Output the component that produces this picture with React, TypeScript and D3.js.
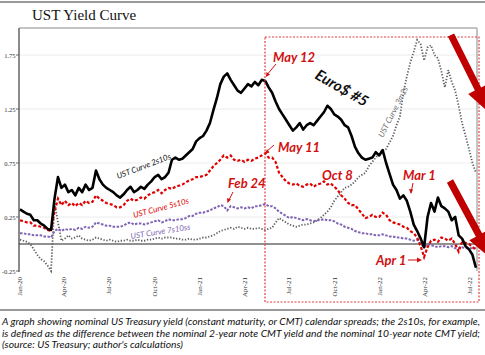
import React from "react";
import * as d3 from "d3";

// Weekly observations starting Fri 2020-01-03
const START = new Date(2020, 0, 3);
const curve2s10s = [
  0.32, 0.30, 0.28, 0.27, 0.22, 0.22, 0.19, 0.17, 0.14, 0.13,
  0.42, 0.62, 0.52, 0.55, 0.48, 0.50, 0.45, 0.52, 0.48, 0.55,
  0.50, 0.52, 0.68, 0.60, 0.55, 0.52, 0.50, 0.48, 0.45, 0.43,
  0.46, 0.50, 0.53, 0.48, 0.50, 0.53, 0.51, 0.55, 0.58, 0.62,
  0.64, 0.60, 0.62, 0.66, 0.78, 0.80, 0.78, 0.79, 0.82, 0.85,
  0.88, 0.95, 0.98, 1.00, 1.05, 1.12, 1.24, 1.35, 1.48, 1.55,
  1.58, 1.52, 1.47, 1.42, 1.40, 1.44, 1.48, 1.46, 1.50, 1.47,
  1.52, 1.51, 1.45, 1.40, 1.32, 1.25, 1.20, 1.15, 1.10, 1.05,
  1.08, 1.12, 1.06, 1.10, 1.12, 1.10, 1.14, 1.18, 1.22, 1.28,
  1.25, 1.20, 1.18, 1.15, 1.10, 1.08, 1.00, 0.90, 0.84, 0.80,
  0.78, 0.79, 0.80, 0.85, 0.82, 0.87, 0.75, 0.65, 0.55, 0.50,
  0.42, 0.45, 0.40, 0.30, 0.18, 0.12, 0.05, -0.03, 0.25, 0.38,
  0.30, 0.43, 0.35, 0.33, 0.30, 0.22, 0.25, 0.08, 0.05, -0.02,
  -0.05, -0.10, -0.22,
];
const curve5s10s = [
  0.22, 0.21, 0.20, 0.20, 0.17, 0.17, 0.16, 0.15, 0.13, 0.12,
  0.30, 0.42, 0.36, 0.40, 0.36, 0.38, 0.35, 0.38, 0.36, 0.40,
  0.38, 0.39, 0.45, 0.42, 0.40, 0.38, 0.37, 0.36, 0.34, 0.34,
  0.36, 0.40, 0.42, 0.40, 0.41, 0.43, 0.42, 0.45, 0.47, 0.48,
  0.50, 0.47, 0.50, 0.52, 0.51, 0.53, 0.54, 0.55, 0.57, 0.59,
  0.60, 0.62, 0.62, 0.63, 0.64, 0.68, 0.72, 0.75, 0.78, 0.82,
  0.80, 0.82, 0.78, 0.77, 0.78, 0.76, 0.78, 0.77, 0.79, 0.80,
  0.82, 0.84, 0.80, 0.80, 0.76, 0.66, 0.62, 0.58, 0.56, 0.55,
  0.56, 0.54, 0.53, 0.55, 0.56, 0.53, 0.55, 0.56, 0.58, 0.55,
  0.56, 0.53, 0.50, 0.45, 0.42, 0.38, 0.36, 0.36, 0.32, 0.28,
  0.24, 0.25, 0.27, 0.25, 0.25, 0.29, 0.27, 0.22, 0.20, 0.19,
  0.18, 0.16, 0.15, 0.12, 0.10, 0.06, -0.02, -0.12, -0.03, 0.03,
  0.04, 0.02, 0.06, 0.05, 0.03, 0.05, 0.00, -0.07, 0.02, 0.01,
  0.00, -0.03, -0.05,
];
const curve7s10s = [
  0.10, 0.10, 0.09, 0.09, 0.08, 0.08, 0.08, 0.07, 0.07, 0.06,
  0.12, 0.14, 0.12, 0.14, 0.13, 0.14, 0.13, 0.15, 0.14, 0.16,
  0.15, 0.16, 0.20, 0.19, 0.18, 0.17, 0.17, 0.16, 0.16, 0.16,
  0.17, 0.19, 0.20, 0.18, 0.19, 0.19, 0.18, 0.19, 0.20, 0.21,
  0.22, 0.20, 0.21, 0.23, 0.22, 0.22, 0.23, 0.23, 0.24, 0.26,
  0.26, 0.28, 0.29, 0.29, 0.30, 0.31, 0.33, 0.34, 0.36, 0.35,
  0.31, 0.35, 0.34, 0.33, 0.34, 0.33, 0.34, 0.33, 0.35, 0.35,
  0.36, 0.37, 0.35, 0.35, 0.33, 0.30, 0.28, 0.26, 0.24, 0.25,
  0.24, 0.23, 0.22, 0.23, 0.22, 0.21, 0.22, 0.22, 0.23, 0.22,
  0.22, 0.21, 0.19, 0.18, 0.16, 0.15, 0.14, 0.12, 0.11, 0.10,
  0.10, 0.09, 0.09, 0.08, 0.08, 0.09, 0.08, 0.07, 0.07, 0.06,
  0.06, 0.05, 0.05, 0.04, 0.03, 0.04, 0.00, -0.03, 0.00, -0.01,
  -0.02, -0.03, -0.02, -0.02, -0.03, -0.02, -0.04, -0.04, -0.03, -0.04,
  -0.04, -0.04, -0.04,
];
const curve3m2s = [
  0.04, 0.03, 0.02, 0.00, -0.05, -0.10, -0.14, -0.16, -0.20, -0.25,
  0.38, 0.20, 0.03, 0.05, 0.08, 0.05, 0.06, 0.08, 0.05, 0.04,
  0.03, 0.04, 0.06, 0.05, 0.04, 0.03, 0.04, 0.03, 0.02, 0.03,
  0.03, 0.04, 0.03, 0.03, 0.04, 0.03, 0.03, 0.04, 0.04, 0.05,
  0.06, 0.05, 0.06, 0.06, 0.06, 0.05, 0.05, 0.04, 0.04, 0.05,
  0.04, 0.04, 0.05, 0.06, 0.06, 0.07, 0.08, 0.10, 0.12, 0.13,
  0.14, 0.15, 0.14, 0.16, 0.15, 0.14, 0.15, 0.14, 0.14, 0.15,
  0.14, 0.13, 0.14, 0.15, 0.20, 0.24, 0.22, 0.20, 0.18, 0.17,
  0.16, 0.17, 0.18, 0.18, 0.19, 0.20, 0.22, 0.24, 0.27, 0.30,
  0.34, 0.40, 0.44, 0.48, 0.52, 0.53, 0.55, 0.58, 0.62, 0.64,
  0.66, 0.72, 0.76, 0.80, 0.84, 0.86, 0.88, 0.94, 1.00, 1.10,
  1.18, 1.40, 1.55, 1.68, 1.78, 1.89, 1.85, 1.70, 1.82, 1.84,
  1.75, 1.72, 1.60, 1.45, 1.61, 1.50, 1.42, 1.28, 1.12, 1.00,
  0.88, 0.75, 0.66,
];

const yTicks = [-0.25, 0.25, 0.75, 1.25, 1.75];
const gridTicks = [0.25, 0.75, 1.25, 1.75];
const xTickDates = [
  new Date(2020, 0, 1), new Date(2020, 3, 1), new Date(2020, 6, 1), new Date(2020, 9, 1),
  new Date(2021, 0, 1), new Date(2021, 3, 1), new Date(2021, 6, 1), new Date(2021, 9, 1),
  new Date(2022, 0, 1), new Date(2022, 3, 1), new Date(2022, 6, 1),
];

const captionLines = [
  "A graph showing nominal US Treasury yield (constant maturity, or CMT) calendar spreads; the 2s10s, for example,",
  "is defined as the difference between the nominal 2-year note CMT yield and the nominal 10-year note CMT yield;",
  "(source: US Treasury; author's calculations)",
];

const dates = curve2s10s.map((_, i) => d3.timeDay.offset(START, i * 7));

export default function App() {
  const x = d3.scaleTime().domain([new Date(2020, 0, 1), new Date(2022, 6, 1)]).range([19, 469]);
  const y = d3.scaleLinear().domain([-0.25, 2.0]).range([271, 28]);
  const line = (vals: number[]) =>
    d3.line<number>().x((_, i) => x(dates[i])).y((v) => y(v))(vals) as string;
  const fmt = d3.timeFormat("%b-%y");

  const arrow = (sx: number, sy: number, bx: number, by: number) => {
    const dx = bx - sx, dy = by - sy;
    const L = Math.hypot(dx, dy);
    const ux = dx / L, uy = dy / L;
    const px = -uy, py = ux;
    const hw = 11, sw = 3.5, hl = 28;
    const pts = [
      [sx + px * sw, sy + py * sw],
      [bx + px * sw, by + py * sw],
      [bx + px * hw, by + py * hw],
      [bx + ux * hl, by + uy * hl],
      [bx - px * hw, by - py * hw],
      [bx - px * sw, by - py * sw],
      [sx - px * sw, sy - py * sw],
    ];
    return pts.map((p) => p.join(",")).join(" ");
  };

  const annoFont = "Lato, 'Open Sans', sans-serif";

  return (
    <svg width={485} height={355} style={{ position: "absolute", left: 0, top: 0, background: "#fff" }}>
      <line x1={0} x2={485} y1={2} y2={2} stroke="#9a9a9a" strokeWidth={2} />
      <text x={32} y={20} fontFamily="'Liberation Serif', 'Times New Roman', serif" fontSize={15} fill="#111">
        UST Yield Curve
      </text>

      {/* plot frame */}
      {gridTicks.map((t) => (
        <line key={t} x1={19} x2={477} y1={y(t)} y2={y(t)} stroke="#ececec" strokeWidth={1} />
      ))}
      <line x1={19} x2={477} y1={28} y2={28} stroke="#b0b0b0" strokeWidth={1.5} />
      <line x1={477} x2={477} y1={28} y2={271} stroke="#b0b0b0" strokeWidth={1.5} />
      <line x1={19} x2={19} y1={28} y2={272} stroke="#8a8a8a" strokeWidth={2} />
      {yTicks.map((t) => (
        <g key={t}>
          <line x1={16} x2={19} y1={y(t)} y2={y(t)} stroke="#666" strokeWidth={1} />
          <text x={15.5} y={y(t) + 2.5} textAnchor="end" fontFamily="'Liberation Serif', serif" fontSize={6.5} fill="#333">
            {t.toFixed(2)}
          </text>
        </g>
      ))}
      {xTickDates.map((d, i) => (
        <text
          key={i}
          transform={`translate(${x(d) + 2.5},277) rotate(-90)`}
          textAnchor="end"
          fontFamily="'Liberation Serif', serif"
          fontSize={7}
          fill="#333"
        >
          {fmt(d)}
        </text>
      ))}

      {/* zero line */}
      <line x1={19} x2={477} y1={y(0)} y2={y(0)} stroke="#222" strokeWidth={1} />

      {/* series */}
      <path d={line(curve3m2s)} fill="none" stroke="#606060" strokeWidth={1.8} strokeDasharray="1.3 1.7" />
      <path d={line(curve7s10s)} fill="none" stroke="#8064b4" strokeWidth={2} strokeDasharray="2.5 1.5" />
      <path d={line(curve5s10s)} fill="none" stroke="#e00000" strokeWidth={2.2} strokeDasharray="3 2" />
      <path d={line(curve2s10s)} fill="none" stroke="#000" strokeWidth={2.6} strokeLinejoin="round" />

      {/* series labels */}
      <text transform="translate(118,179) rotate(-21)" fontFamily={annoFont} fontStyle="italic" fontSize={8} fill="#111">
        UST Curve 2s10s
      </text>
      <text transform="translate(134,218) rotate(-15)" fontFamily={annoFont} fontStyle="italic" fontSize={8} fill="#e00000">
        UST Curve 5s10s
      </text>
      <text transform="translate(131,239) rotate(-9)" fontFamily={annoFont} fontStyle="italic" fontSize={8} fill="#8064b4">
        UST Curve 7s10ss
      </text>
      <text transform="translate(383,138) rotate(-63)" fontFamily={annoFont} fontStyle="italic" fontSize={8} fill="#707070">
        UST Curve 3m2s
      </text>

      {/* highlight rect */}
      <rect x={265} y={37} width={214} height={265} fill="none" stroke="#e04040" strokeWidth={1.2} strokeDasharray="2 1.5" />

      {/* annotations */}
      <g fontFamily={annoFont} fontWeight={700} fontStyle="italic" fontSize={13} fill="#d01010">
        <text x={273} y={62}>May 12</text>
        <text x={278} y={152}>May 11</text>
        <text x={228} y={188}>Feb 24</text>
        <text x={322} y={180}>Oct 8</text>
        <text x={403} y={180}>Mar 1</text>
        <text x={376} y={265}>Apr 1</text>
      </g>
      <g stroke="#d01010" strokeWidth={1} fill="none">
        <line x1={276} y1={64} x2={266} y2={76} />
        <line x1={274} y1={145} x2={266} y2={152} />
        <line x1={233} y1={192} x2={228} y2={202} />
        <line x1={413} y1={183} x2={411} y2={193} />
        <line x1={408} y1={260} x2={420} y2={260} />
      </g>
      <g fill="#d01010">
        <polygon points="266,77 266.5,72 270,74.5" />
        <polygon points="265,154 267,149 269.5,152.5" />
        <polygon points="227.5,203 227,198 231,199.5" />
        <polygon points="411,194 409,189 413,189.5" />
        <polygon points="422,260 417,257.5 417,262.5" />
      </g>
      <text
        transform="translate(314,78) rotate(30)"
        fontFamily={annoFont}
        fontWeight={700}
        fontStyle="italic"
        fontSize={15}
        fill="#111"
      >
        Euro$ #5
      </text>

      {/* big arrows */}
      <polygon points={arrow(451, 35, 478, 89)} fill="#c00000" />
      <polygon points={arrow(450, 181, 479, 235)} fill="#c00000" />

      {/* caption */}
      <line x1={0} x2={485} y1={310} y2={310} stroke="#9a9a9a" strokeWidth={2} />
      {captionLines.map((t, i) => (
        <text
          key={i}
          x={2}
          y={325 + i * 11.5}
          fontFamily={annoFont}
          fontStyle="italic"
          fontSize={9.6}
          fill="#111"
          textLength={i < 2 ? 478 : 181}
          lengthAdjust="spacingAndGlyphs"
        >
          {t}
        </text>
      ))}
    </svg>
  );
}
